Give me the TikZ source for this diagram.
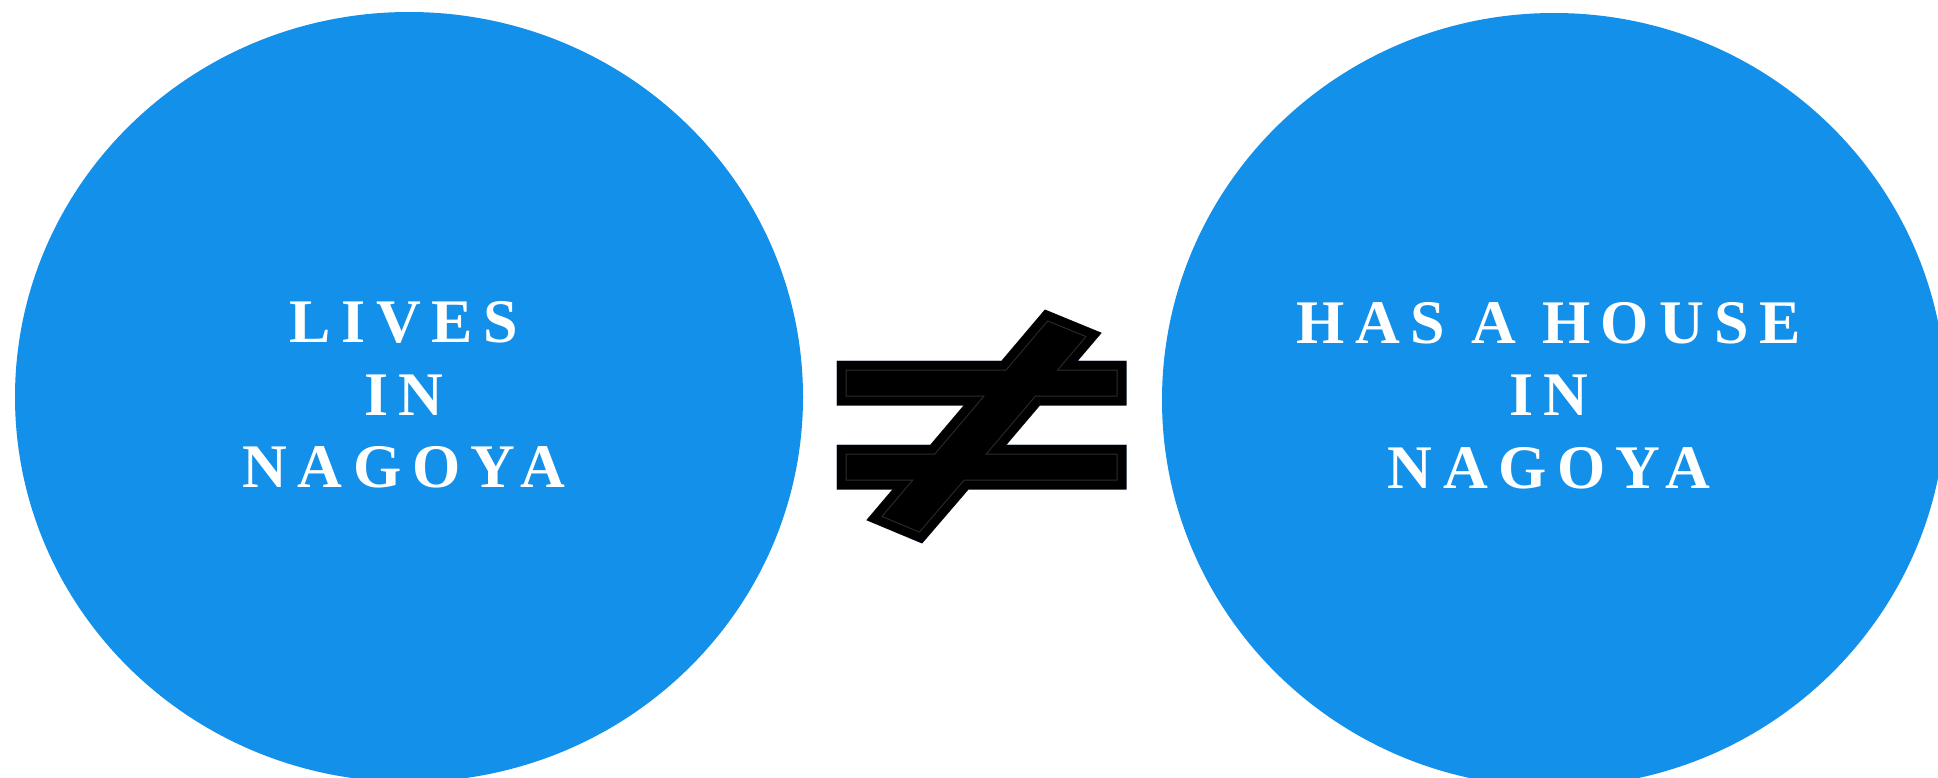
\documentclass[tikz,border=0pt]{standalone}
\usepackage{fontspec}
\usetikzlibrary{shapes.geometric}
\newfontfamily\lblfont[LetterSpace=17]{Liberation Serif Bold}
\definecolor{blobblue}{RGB}{18,144,234}
\definecolor{neqline}{RGB}{45,45,45}
\definecolor{neqedge}{RGB}{60,80,110}
\tikzset{
  blob/.style={ellipse, fill=blobblue, draw=none, inner sep=0pt},
  lbl/.style={text=white, align=center, inner sep=0pt,
    font=\lblfont\fontsize{62}{72.5}\selectfont},
}
\begin{document}
\begin{tikzpicture}[x=1pt,y=-1pt]
\clip (0,0) rectangle (1938,778);
\fill[white] (0,0) rectangle (1938,778);
% ellipses
\node[blob, minimum width=788pt, minimum height=770pt] (L) at (409,397) {};
\node[blob, minimum width=784pt, minimum height=774pt] (R) at (1554,400) {};
% labels
\node[lbl] (Lt) at (404,395) {LIVES\\IN\\NAGOYA};
\node[lbl] (Rt) at (1549,395.5) {HAS A HOUSE\\IN\\NAGOYA};
% not-equal sign
\def\neqpath{(1045,310) -- (1101,333) -- (1077.2,361) -- (1126,361) -- (1126,405)
  -- (1039.8,405) -- (1005.8,445) -- (1126,445) -- (1126,489) -- (968.4,489)
  -- (922,543) -- (867,520) -- (893.3,489) -- (837,489) -- (837,445)
  -- (930.6,445) -- (964.5,405) -- (837,405) -- (837,361) -- (1001.8,361) -- cycle}
\fill[black, draw=neqedge, line width=1pt] \neqpath;
\begin{scope}
  \clip \neqpath;
  \draw[black, line width=2pt] \neqpath;
  \draw[neqline, line width=19pt, line join=miter] \neqpath;
  \draw[black, line width=17pt, line join=miter] \neqpath;
\end{scope}
\end{tikzpicture}
\end{document}
